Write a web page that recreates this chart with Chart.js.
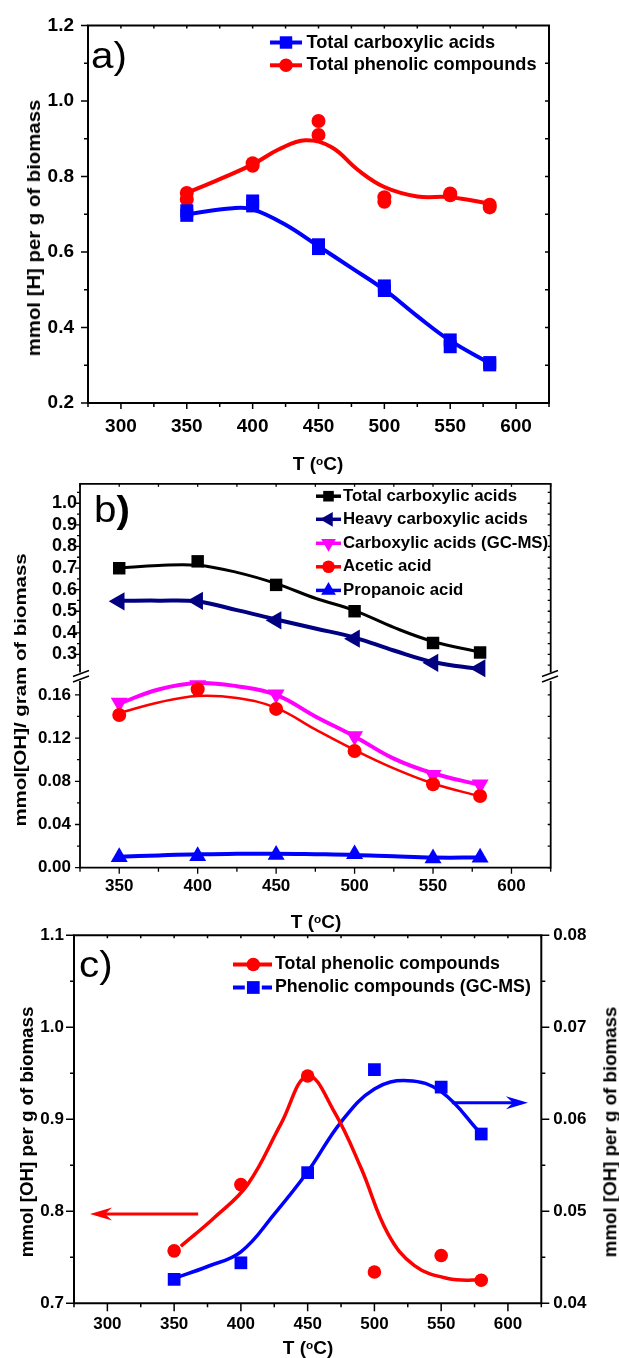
<!DOCTYPE html>
<html><head><meta charset="utf-8"><title>Carboxylic acids and phenolic compounds vs temperature</title>
<script src="https://cdn.jsdelivr.net/npm/chart.js"></script>
<style>
html,body{margin:0;padding:0;background:#fff;}
#wrap{position:relative;width:619px;height:1358px;overflow:hidden;background:#fff;font-family:"Liberation Sans",Arial,Helvetica,sans-serif;}
canvas{position:absolute;left:0;}
.t{position:absolute;font-weight:bold;white-space:nowrap;color:#000;line-height:1;}
sup{font-size:0.62em;position:relative;top:-0.45em;vertical-align:baseline;line-height:0;}
</style></head><body>
<div id="wrap">
<canvas id="cA" width="619" height="480" style="top:0px"></canvas>
<canvas id="cB1" width="619" height="240" style="top:470px"></canvas>
<canvas id="cB2" width="619" height="270" style="top:662px"></canvas>
<canvas id="cC" width="619" height="458" style="top:900px"></canvas>
<div class="t" style="left:34px;top:228px;font-size:18px;transform:translate(-50%,-50%) rotate(-90deg) scaleX(1.13);">mmol [H] per g of biomass</div>
<div class="t" style="left:318px;top:463px;font-size:19px;transform:translate(-50%,-50%);">T (<sup>o</sup>C)</div>
<div class="t" style="left:19.5px;top:690px;font-size:17px;transform:translate(-50%,-50%) rotate(-90deg) scaleX(1.2);">mmol[OH]/ gram of biomass</div>
<div class="t" style="left:316px;top:921px;font-size:19px;transform:translate(-50%,-50%);">T (<sup>o</sup>C)</div>
<div class="t" style="left:28px;top:1132px;font-size:17.5px;transform:translate(-50%,-50%) rotate(-90deg) scaleX(1.07);">mmol [OH] per g of biomass</div>
<div class="t" style="left:611px;top:1132px;font-size:17.5px;transform:translate(-50%,-50%) rotate(-90deg) scaleX(1.07);">mmol [OH] per g of biomass</div>
<div class="t" style="left:308px;top:1347px;font-size:19px;transform:translate(-50%,-50%);">T (<sup>o</sup>C)</div>
</div>
<script>
// ---------------- DATA ----------------
// Panel a
const tempA = [350, 400, 450, 500, 550, 580];
const carbA_1 = [0.709, 0.735, 0.619, 0.510, 0.367, 0.307];
const carbA_2 = [0.697, 0.722, 0.609, 0.498, 0.349, 0.301];
const phenA_1 = [0.756, 0.835, 0.947, 0.745, 0.755, 0.725];
const phenA_2 = [0.739, 0.828, 0.910, 0.733, 0.750, 0.718];
const fitCarbA_T = [350, 385, 400, 425, 450, 475, 500, 525, 550, 580];
const fitCarbA = [0.700, 0.716, 0.713, 0.672, 0.615, 0.558, 0.500, 0.430, 0.365, 0.305];
const fitPhenA_T = [350, 375, 400, 420, 440, 460, 480, 500, 525, 550, 580];
const fitPhenA = [0.756, 0.793, 0.832, 0.872, 0.896, 0.877, 0.817, 0.772, 0.747, 0.745, 0.728];
const namesA = ['Total carboxylic acids', 'Total phenolic compounds'];
const xMajorA = [300, 350, 400, 450, 500, 550, 600];
const xMinorA = [275, 325, 375, 425, 475, 525, 575, 625];
const yMajorA = [0.2, 0.4, 0.6, 0.8, 1.0, 1.2];
const yMinorA = [0.3, 0.5, 0.7, 0.9, 1.1];

// Panel b
const tempB = [350, 400, 450, 500, 550, 580];
const totalCarbB = [0.699, 0.731, 0.622, 0.500, 0.353, 0.309];
const heavyCarbB = [0.546, 0.548, 0.458, 0.373, 0.261, 0.236];
const gcmsCarbB = [0.1527, 0.169, 0.1605, 0.1218, 0.0858, 0.0771];
const aceticB = [0.1414, 0.1652, 0.147, 0.108, 0.0772, 0.0664];
const propanoicB = [0.0098, 0.0108, 0.0119, 0.0125, 0.0087, 0.0094];
const fitB_T = [350, 375, 400, 425, 450, 475, 500, 525, 550, 580];
const fitTotalB = [0.700, 0.712, 0.713, 0.680, 0.628, 0.560, 0.503, 0.425, 0.360, 0.310];
const fitHeavyB = [0.548, 0.549, 0.545, 0.505, 0.462, 0.420, 0.378, 0.318, 0.265, 0.232];
const fitGcmsB = [0.152, 0.165, 0.171, 0.168, 0.160, 0.140, 0.1215, 0.101, 0.0874, 0.0766];
const fitAceticB = [0.143, 0.153, 0.159, 0.157, 0.148, 0.128, 0.109, 0.092, 0.078, 0.066];
const fitPropB = [0.0102, 0.0114, 0.0124, 0.0128, 0.0130, 0.0125, 0.0118, 0.0105, 0.0094, 0.0094];
const namesB = ['Total carboxylic acids', 'Heavy carboxylic acids', 'Carboxylic acids (GC-MS)', 'Acetic acid', 'Propanoic acid'];
const xMajorB = [350, 400, 450, 500, 550, 600];
const xMinorB = [325, 375, 425, 475, 525, 575, 625];
const yMajorBup = [0.3, 0.4, 0.5, 0.6, 0.7, 0.8, 0.9, 1.0];
const yMinorBup = [0.25, 0.35, 0.45, 0.55, 0.65, 0.75, 0.85, 0.95, 1.05];
const yMajorBlo = [0.00, 0.04, 0.08, 0.12, 0.16];
const yMinorBlo = [0.02, 0.06, 0.10, 0.14];

// Panel c
const tempC = [350, 400, 450, 500, 550, 580];
const phenTotalC = [0.757, 0.829, 0.947, 0.734, 0.752, 0.725];
const phenGcmsC = [0.0426, 0.0444, 0.0542, 0.0654, 0.0635, 0.0584];
const fitTotC_T = [355, 380, 405, 430, 450, 470, 490, 510, 530, 555, 580];
const fitTotC = [0.762, 0.793, 0.829, 0.895, 0.947, 0.908, 0.847, 0.776, 0.741, 0.727, 0.725];
const fitGcC_T = [350, 375, 400, 425, 450, 475, 500, 525, 550, 580];
const fitGcC = [0.0427, 0.0440, 0.0456, 0.0497, 0.0543, 0.0597, 0.0633, 0.0642, 0.0630, 0.0584];
const namesC = ['Total phenolic compounds', 'Phenolic compounds (GC-MS)'];
const xMajorC = [300, 350, 400, 450, 500, 550, 600];
const xMinorC = [275, 325, 375, 425, 475, 525, 575, 625];
const yMajorC = [0.7, 0.8, 0.9, 1.0, 1.1];
const yMinorC = [0.75, 0.85, 0.95, 1.05];
const y2MajorC = [0.04, 0.05, 0.06, 0.07, 0.08];
const y2MinorC = [0.045, 0.055, 0.065, 0.075];
// axis-pointing arrows (x from, x to, level on its axis)
const arrowRed = [368, 287, 0.797];
const arrowBlue = [558, 615, 0.0618];

// ---------------- HELPERS ----------------
const FF = '"Liberation Sans", Arial, Helvetica, sans-serif';
const RED = '#ff0000', BLUE = '#0000ff', NAVY = '#000080', MAG = '#ff00ff', BLK = '#000000';
function pts(xs, ys) { return xs.map((x, i) => ({ x: x, y: ys[i] })); }
function curve(xs, ys, color, w, axis) {
  return { data: pts(xs, ys), borderColor: color, borderWidth: w, pointRadius: 0, tension: 0.4,
    cubicInterpolationMode: 'default', fill: false, clip: false, order: 5, yAxisID: axis || 'y' };
}
function marks(xs, ys, color, style, r, rot, axis, order) {
  return { data: pts(xs, ys), showLine: false, pointStyle: style, pointRadius: r, pointRotation: rot || 0,
    pointBackgroundColor: color, pointBorderColor: color, pointBorderWidth: 0, backgroundColor: color, borderColor: color,
    clip: false, order: order == null ? 1 : order, yAxisID: axis || 'y' };
}
function tickOpts(size, pad, dec) {
  return { font: { family: FF, size: size, weight: 'bold' }, color: '#000', padding: pad, autoSkip: false,
    maxRotation: 0, minRotation: 0, callback: (v) => Number(v).toFixed(dec) };
}
function setTicks(list) { return (s) => { s.ticks = list.map(v => ({ value: v })); }; }
function drawMarker(ctx, style, x, y, r, rot, color) {
  ctx.save(); ctx.fillStyle = color; ctx.beginPath();
  if (style === 'rect') { const s = r * Math.SQRT1_2; ctx.rect(x - s, y - s, 2 * s, 2 * s); }
  else if (style === 'circle') { ctx.arc(x, y, r, 0, Math.PI * 2); }
  else { let a = (rot || 0) * Math.PI / 180; for (let i = 0; i < 3; i++) { const px = x + Math.sin(a) * r, py = y - Math.cos(a) * r; if (i) ctx.lineTo(px, py); else ctx.moveTo(px, py); a += 2 * Math.PI / 3; } ctx.closePath(); }
  ctx.fill(); ctx.restore();
}
function framePlugin(f) {
  return { id: 'frame', afterDatasetsDraw(chart) {
    const ctx = chart.ctx, a = chart.chartArea;
    ctx.save(); ctx.strokeStyle = '#000';
    ctx.lineWidth = f.tw; ctx.lineCap = 'butt';
    for (const t of f.ticks) {
      const sc = chart.scales[t.scale];
      ctx.beginPath();
      for (const v of t.values) {
        const p = sc.getPixelForValue(v);
        if (t.side === 'bottom') { ctx.moveTo(p, a.bottom); ctx.lineTo(p, a.bottom + t.dir * t.len); }
        else if (t.side === 'top') { ctx.moveTo(p, a.top); ctx.lineTo(p, a.top - t.dir * t.len); }
        else if (t.side === 'left') { ctx.moveTo(a.left, p); ctx.lineTo(a.left - t.dir * t.len, p); }
        else { ctx.moveTo(a.right, p); ctx.lineTo(a.right + t.dir * t.len, p); }
      }
      ctx.stroke();
    }
    ctx.lineWidth = f.lw; ctx.lineCap = 'square'; ctx.beginPath();
    const L = a.left, R = a.right, T = a.top, B = a.bottom;
    if (f.sides.includes('top')) { ctx.moveTo(L, T); ctx.lineTo(R, T); }
    if (f.sides.includes('bottom')) { ctx.moveTo(L, B); ctx.lineTo(R, B); }
    if (f.sides.includes('left')) { ctx.moveTo(L, T); ctx.lineTo(L, B); }
    if (f.sides.includes('right')) { ctx.moveTo(R, T); ctx.lineTo(R, B); }
    ctx.stroke(); ctx.restore();
  } };
}
function legendRows(ctx, g, rows) {
  rows.forEach(e => {
    ctx.save(); ctx.strokeStyle = e.color; ctx.lineWidth = g.lw; ctx.beginPath();
    if (e.gap) { ctx.moveTo(g.x0, e.y); ctx.lineTo(g.mx - e.gap, e.y); ctx.moveTo(g.mx + e.gap, e.y); ctx.lineTo(g.x1, e.y); }
    else { ctx.moveTo(g.x0, e.y); ctx.lineTo(g.x1, e.y); }
    ctx.stroke();
    drawMarker(ctx, e.style, g.mx, e.y, e.r, e.rot, e.color);
    ctx.fillStyle = '#000'; ctx.font = g.font; ctx.textBaseline = 'middle'; ctx.textAlign = 'left';
    ctx.fillText(e.label, g.tx, e.y);
    ctx.restore();
  });
}
function panelLabel(ctx, letter, x, y, size, boldParen) {
  ctx.save(); ctx.fillStyle = '#000'; ctx.textBaseline = 'alphabetic'; ctx.textAlign = 'left';
  ctx.translate(x, y); ctx.scale(1.12, 1);
  ctx.font = 'normal ' + size + 'px ' + FF; ctx.fillText(letter, 0, 0);
  const w = ctx.measureText(letter).width;
  ctx.font = (boldParen ? 'bold ' : 'normal ') + size + 'px ' + FF; ctx.fillText(')', w, 0);
  ctx.restore();
}
function extrasPlugin(offY, fn) { return { id: 'extras', afterDraw(chart) { const ctx = chart.ctx; ctx.save(); ctx.translate(0, -offY); fn(ctx, chart); ctx.restore(); } }; }
function baseOptions(pad) {
  return { responsive: false, maintainAspectRatio: false, animation: false, events: [],
    layout: { padding: pad }, plugins: { legend: { display: false }, tooltip: { enabled: false } } };
}
const noGrid = { display: false, drawTicks: false };

// ---------------- PANEL A ----------------
(function () {
  const top = 0;
  const opt = baseOptions({ top: 25, right: 70, bottom: 0, left: 0 });
  opt.scales = {
    x: { type: 'linear', min: 275, max: 625, grid: noGrid, border: { display: false }, ticks: tickOpts(19, 12, 0),
      afterBuildTicks: setTicks(xMajorA), afterFit: (s) => { s.height = 77; } },
    y: { type: 'linear', min: 0.2, max: 1.2, grid: noGrid, border: { display: false }, ticks: tickOpts(19, 14, 1),
      afterBuildTicks: setTicks(yMajorA), afterFit: (s) => { s.width = 88; } }
  };
  new Chart(document.getElementById('cA'), {
    type: 'line',
    data: { datasets: [
      curve(fitCarbA_T, fitCarbA, BLUE, 4),
      curve(fitPhenA_T, fitPhenA, RED, 4),
      marks(tempA, carbA_1, BLUE, 'rect', 9.2),
      marks(tempA, carbA_2, BLUE, 'rect', 9.2),
      marks(tempA, phenA_1, RED, 'circle', 7),
      marks(tempA, phenA_2, RED, 'circle', 7)
    ] },
    options: opt,
    plugins: [
      framePlugin({ lw: 2, tw: 1.5, sides: ['top', 'bottom', 'left', 'right'], ticks: [
        { side: 'bottom', scale: 'x', values: xMajorA, len: 6, dir: 1 },
        { side: 'bottom', scale: 'x', values: xMinorA, len: 4, dir: 1 },
        { side: 'top', scale: 'x', values: xMajorA.concat(xMinorA), len: 3, dir: -1 },
        { side: 'left', scale: 'y', values: yMajorA, len: 7, dir: 1 },
        { side: 'left', scale: 'y', values: yMinorA, len: 4, dir: 1 },
        { side: 'right', scale: 'y', values: yMinorA.concat([0.4, 0.6, 0.8, 1.0]), len: 4, dir: -1 }
      ] }),
      extrasPlugin(top, (ctx) => {
        panelLabel(ctx, 'a', 91, 68, 36, false);
        legendRows(ctx, { x0: 270, x1: 302, mx: 286, tx: 306.5, lw: 4, font: 'bold 18.2px ' + FF }, [
          { label: namesA[0], color: BLUE, style: 'rect', r: 8.8, y: 42.5 },
          { label: namesA[1], color: RED, style: 'circle', r: 6.8, y: 65.3 }
        ]);
      })
    ]
  });
})();

// ---------------- PANEL B (upper) ----------------
(function () {
  const top = 470;
  const opt = baseOptions({ top: 12.8, right: 68.3, bottom: 38.3, left: 0 });
  opt.scales = {
    x: { type: 'linear', min: 325, max: 625, display: false },
    y: { type: 'linear', min: 0.22, max: 1.09, grid: noGrid, border: { display: false }, ticks: tickOpts(18, 3, 1),
      afterBuildTicks: setTicks(yMajorBup), afterFit: (s) => { s.width = 80; } }
  };
  new Chart(document.getElementById('cB1'), {
    type: 'line',
    data: { datasets: [
      curve(fitB_T, fitTotalB, BLK, 3),
      curve(fitB_T, fitHeavyB, NAVY, 4),
      marks(tempB, totalCarbB, BLK, 'rect', 8.8),
      marks(tempB, heavyCarbB, NAVY, 'triangle', 10.5, -90)
    ] },
    options: opt,
    plugins: [
      framePlugin({ lw: 1.8, tw: 1.3, sides: ['top', 'left', 'right'], ticks: [
        { side: 'top', scale: 'x', values: xMajorB.concat(xMinorB), len: 3, dir: -1 },
        { side: 'left', scale: 'y', values: yMajorBup, len: 5, dir: 1 },
        { side: 'left', scale: 'y', values: yMinorBup, len: 3, dir: 1 },
        { side: 'right', scale: 'y', values: yMajorBup.concat(yMinorBup), len: 3, dir: -1 }
      ] }),
      extrasPlugin(top, (ctx) => {
        panelLabel(ctx, 'b', 94, 522, 36, true);
        legendRows(ctx, { x0: 316, x1: 341, mx: 328.5, tx: 343, lw: 3.5, font: 'bold 16.8px ' + FF }, [
          { label: namesB[0], color: BLK, style: 'rect', r: 7.5, y: 496.2 },
          { label: namesB[1], color: NAVY, style: 'triangle', rot: -90, r: 8.5, y: 519.3 },
          { label: namesB[2], color: MAG, style: 'triangle', rot: 180, r: 8.5, y: 543.3 },
          { label: namesB[3], color: RED, style: 'circle', r: 6.3, y: 566.8 },
          { label: namesB[4], color: BLUE, style: 'triangle', rot: 0, r: 8.5, y: 590.4 }
        ]);
      })
    ]
  });
})();

// ---------------- PANEL B (lower) ----------------
(function () {
  const top = 662;
  const opt = baseOptions({ top: 19.9, right: 68.3, bottom: 0, left: 0 });
  opt.scales = {
    x: { type: 'linear', min: 325, max: 625, grid: noGrid, border: { display: false }, ticks: tickOpts(17, 8, 0),
      afterBuildTicks: setTicks(xMajorB), afterFit: (s) => { s.height = 64.3; } },
    y: { type: 'linear', min: 0, max: 0.172, grid: noGrid, border: { display: false }, ticks: tickOpts(17, 9, 2),
      afterBuildTicks: setTicks(yMajorBlo), afterFit: (s) => { s.width = 80; } }
  };
  new Chart(document.getElementById('cB2'), {
    type: 'line',
    data: { datasets: [
      curve(fitB_T, fitGcmsB, MAG, 4),
      curve(fitB_T, fitAceticB, RED, 2.5),
      curve(fitB_T, fitPropB, BLUE, 4),
      marks(tempB, aceticB, RED, 'circle', 7, 0, 'y', 0),
      marks(tempB, gcmsCarbB, MAG, 'triangle', 9.8, 180, 'y', 1),
      marks(tempB, propanoicB, BLUE, 'triangle', 9.8, 0, 'y', 1)
    ] },
    options: opt,
    plugins: [
      framePlugin({ lw: 1.8, tw: 1.3, sides: ['bottom', 'left', 'right'], ticks: [
        { side: 'bottom', scale: 'x', values: xMajorB, len: 6, dir: 1 },
        { side: 'bottom', scale: 'x', values: xMinorB, len: 4, dir: 1 },
        { side: 'left', scale: 'y', values: yMajorBlo, len: 5, dir: 1 },
        { side: 'left', scale: 'y', values: yMinorBlo, len: 3, dir: 1 },
        { side: 'right', scale: 'y', values: yMajorBlo.concat(yMinorBlo), len: 3, dir: -1 }
      ] }),
      extrasPlugin(top, (ctx) => {
        ctx.save(); ctx.strokeStyle = '#000'; ctx.lineWidth = 1.4;
        [81, 550].forEach(cx => {
          ctx.beginPath();
          ctx.moveTo(cx - 8, 676.5); ctx.lineTo(cx + 8, 670.5);
          ctx.moveTo(cx - 8, 682); ctx.lineTo(cx + 8, 676);
          ctx.stroke();
        });
        ctx.restore();
      })
    ]
  });
})();

// ---------------- PANEL C ----------------
(function () {
  const top = 900;
  const opt = baseOptions({ top: 35.3, right: 0, bottom: 0, left: 0 });
  opt.scales = {
    x: { type: 'linear', min: 275, max: 625, grid: noGrid, border: { display: false }, ticks: tickOpts(17, 11, 0),
      afterBuildTicks: setTicks(xMajorC), afterFit: (s) => { s.height = 54.7; } },
    y: { type: 'linear', position: 'left', min: 0.7, max: 1.1, grid: noGrid, border: { display: false }, ticks: tickOpts(17, 10, 1),
      afterBuildTicks: setTicks(yMajorC), afterFit: (s) => { s.width = 74; } },
    y2: { type: 'linear', position: 'right', min: 0.04, max: 0.08, grid: noGrid, border: { display: false }, ticks: tickOpts(17, 12, 2),
      afterBuildTicks: setTicks(y2MajorC), afterFit: (s) => { s.width = 77.7; } }
  };
  new Chart(document.getElementById('cC'), {
    type: 'line',
    data: { datasets: [
      curve(fitTotC_T, fitTotC, RED, 3.5, 'y'),
      curve(fitGcC_T, fitGcC, BLUE, 3.5, 'y2'),
      marks(tempC, phenTotalC, RED, 'circle', 6.8, 0, 'y'),
      marks(tempC, phenGcmsC, BLUE, 'rect', 9, 0, 'y2')
    ] },
    options: opt,
    plugins: [
      framePlugin({ lw: 2, tw: 1.5, sides: ['top', 'bottom', 'left', 'right'], ticks: [
        { side: 'bottom', scale: 'x', values: xMajorC, len: 8, dir: 1 },
        { side: 'bottom', scale: 'x', values: xMinorC, len: 4, dir: 1 },
        { side: 'top', scale: 'x', values: xMajorC.concat(xMinorC), len: 3, dir: -1 },
        { side: 'left', scale: 'y', values: yMajorC, len: 8, dir: 1 },
        { side: 'left', scale: 'y', values: yMinorC, len: 4, dir: 1 },
        { side: 'right', scale: 'y2', values: y2MajorC, len: 8, dir: 1 },
        { side: 'right', scale: 'y2', values: y2MinorC, len: 4, dir: 1 }
      ] }),
      extrasPlugin(top, (ctx, chart) => {
        panelLabel(ctx, 'c', 79, 977, 36, false);
        legendRows(ctx, { x0: 233, x1: 272, mx: 253.3, tx: 275, lw: 4, font: 'bold 17.8px ' + FF }, [
          { label: namesC[0], color: RED, style: 'circle', r: 6.8, y: 964.5 },
          { label: namesC[1], color: BLUE, style: 'rect', r: 9, y: 987.5, gap: 8.5 }
        ]);
        // arrows pointing to axes
        const xs = chart.scales.x;
        function arrow(x0, x1, yPix, color) {
          const dir = x1 > x0 ? 1 : -1, tip = xs.getPixelForValue(x1), s0 = xs.getPixelForValue(x0), y = yPix + top;
          ctx.save(); ctx.strokeStyle = color; ctx.fillStyle = color; ctx.lineWidth = 3;
          ctx.beginPath(); ctx.moveTo(s0, y); ctx.lineTo(tip - dir * 8, y); ctx.stroke();
          ctx.beginPath(); ctx.moveTo(tip, y); ctx.lineTo(tip - dir * 22, y - 6.5); ctx.lineTo(tip - dir * 15, y); ctx.lineTo(tip - dir * 22, y + 6.5); ctx.closePath(); ctx.fill();
          ctx.restore();
        }
        arrow(arrowRed[0], arrowRed[1], chart.scales.y.getPixelForValue(arrowRed[2]), RED);
        arrow(arrowBlue[0], arrowBlue[1], chart.scales.y2.getPixelForValue(arrowBlue[2]), BLUE);
      })
    ]
  });
})();
</script>
</body></html>
